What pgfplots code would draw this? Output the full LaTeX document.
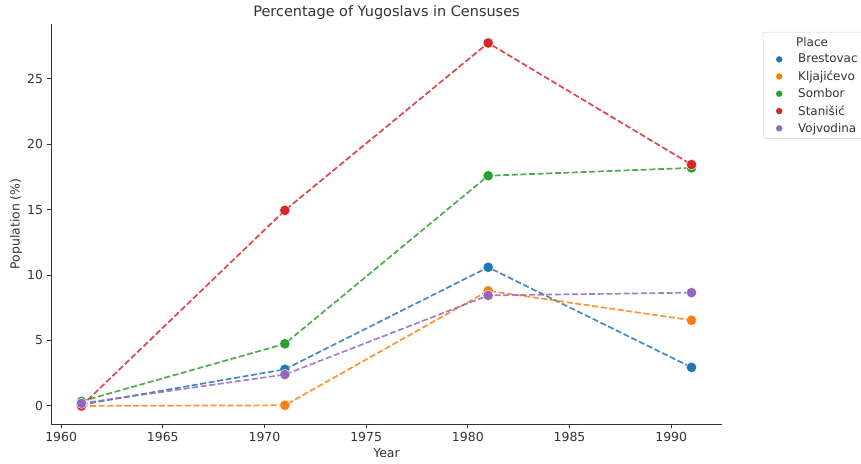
\documentclass[border=0pt]{standalone}
\usepackage{pgfplots}
\pgfplotsset{compat=1.18}
\usepackage{fontspec}
\setmainfont{DejaVu Sans}
\definecolor{tabblue}{HTML}{1F77B4}
\definecolor{taborange}{HTML}{FF7F0E}
\definecolor{tabgreen}{HTML}{2CA02C}
\definecolor{tabred}{HTML}{D62728}
\definecolor{tabpurple}{HTML}{9467BD}
\definecolor{axgray}{HTML}{333333}
\pgfplotsset{
  ser/.style={color=#1, line width=1.7bp, dash pattern=on 6bp off 2.6bp, draw opacity=0.85,
    mark=*, mark size=5.2bp, mark options={solid, fill=#1, draw=white, line width=0.4bp, opacity=1}},
}
\begin{document}
\begin{tikzpicture}[x=1bp,y=1bp]
\path[use as bounding box] (-51,-40) rectangle (810,424);
\begin{axis}[
  at={(0,0)}, anchor=south west,
  scale only axis, width=671bp, height=400bp,
  xmin=1959.5, xmax=1992.5,
  ymin=-1.38, ymax=29.2,
  axis lines*=left,
  axis line style={axgray, line width=0.9bp},
  tick style={axgray, line width=0.9bp},
  tick align=outside,
  major tick length=4.5bp,
  xtick={1960,1965,...,1990},
  ytick={0,5,...,25},
  xticklabel style={/pgf/number format/1000 sep={}},
  /pgf/number format/assume math mode=true,
  ticklabel style={font=\fontsize{12.5}{14}\selectfont, text=axgray},
  xlabel={Year}, ylabel={Population (\%)},
  label style={font=\fontsize{12.5}{14}\selectfont, text=axgray},
  xlabel style={yshift=0bp},
  ylabel style={yshift=-2bp},
  title={Percentage of Yugoslavs in Censuses},
  title style={font=\fontsize{14.5}{16}\selectfont, text=axgray, yshift=-5bp},
  clip=false,
  legend style={at={(1.0611,0.98)}, anchor=north west, draw=black!20, rounded corners=2bp,
    font=\fontsize{12}{14}\selectfont, text=axgray, row sep=2.5bp, inner xsep=3bp, inner ysep=3bp},
  legend cell align=left,
  legend image code/.code={\path[draw=none,fill=none] (-13bp,0) -- (17bp,0); \fill[#1,draw=none] (0,0) circle (3.2bp);},
]
\addlegendimage{empty legend}
\addlegendentry{\hspace{-2bp}Place}
\addplot[ser=tabblue] coordinates {(1961,0.1) (1971,2.8) (1981,10.6) (1991,2.95)};
\addlegendentry{Brestovac}
\addplot[ser=taborange] coordinates {(1961,0.0) (1971,0.05) (1981,8.8) (1991,6.55)};
\addlegendentry{Kljajićevo}
\addplot[ser=tabgreen] coordinates {(1961,0.35) (1971,4.75) (1981,17.6) (1991,18.2)};
\addlegendentry{Sombor}
\addplot[ser=tabred] coordinates {(1961,0.0) (1971,14.95) (1981,27.75) (1991,18.45)};
\addlegendentry{Stanišić}
\addplot[ser=tabpurple] coordinates {(1961,0.2) (1971,2.4) (1981,8.45) (1991,8.66)};
\addlegendentry{Vojvodina}
\end{axis}
\end{tikzpicture}
\end{document}
